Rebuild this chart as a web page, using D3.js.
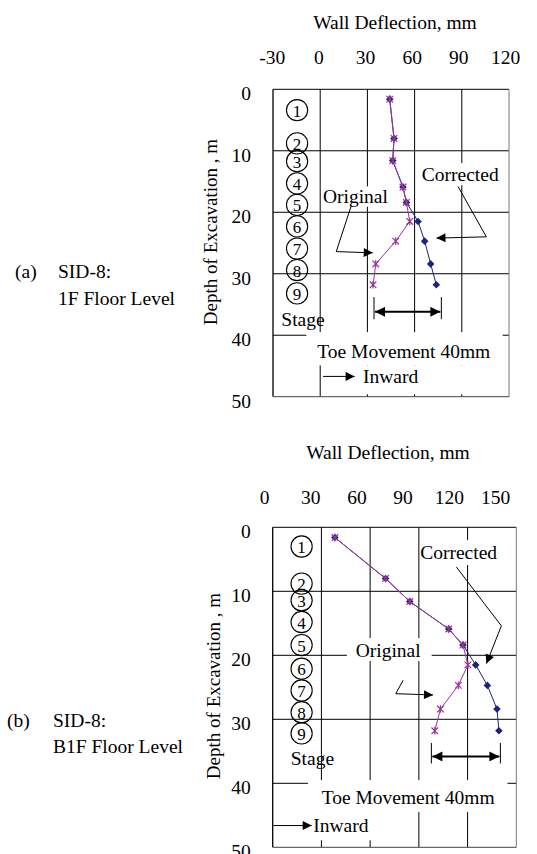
<!DOCTYPE html>
<html><head><meta charset="utf-8">
<script src="https://cdn.jsdelivr.net/npm/d3@7"></script>
<style>
body{margin:0;background:#fff}
svg{display:block}
text{font-family:"Liberation Serif","Times New Roman",serif;fill:#000}
</style>
</head><body><svg id="c" width="537" height="854"></svg>
<script>
// ---------------- data ----------------
const depths = [1.6, 8.0, 11.6, 15.9, 18.4, 21.5, 24.7, 28.4, 31.8];
const depthTicks = [0, 10, 20, 30, 40, 50];
const stageLabels = ["1","2","3","4","5","6","7","8","9"];

// (a) SID-8: 1F Floor Level
const xTicksA = [-30, 0, 30, 60, 90, 120];
const originalA = [44.2, 46.9, 46.1, 52.6, 54.8, 56.9, 48.0, 35.3, 33.6];
const correctedA = [44.2, 46.9, 46.1, 52.6, 54.8, 62.2, 66.4, 70.2, 73.8];
const stageDepthA = [3.4, 8.8, 11.7, 15.3, 18.8, 22.3, 25.9, 29.4, 33.2];

// (b) SID-8: B1F Floor Level
const xTicksB = [0, 30, 60, 90, 120, 150];
const originalB = [38.3, 69.5, 84.4, 108.4, 117.2, 120.2, 114.3, 103.3, 99.8];
const correctedB = [38.3, 69.5, 84.4, 108.4, 117.2, 125.0, 132.2, 138.1, 139.3];
const stageDepthB = [3.0, 8.8, 11.4, 14.8, 18.4, 22.1, 25.5, 28.9, 32.2];

const xTitle = "Wall Deflection, mm";
const yTitle = "Depth of Excavation , m";

// ---------------- layout ----------------
const panels = [
  {
    px: [273, 509], py: [89.3, 396.7], labelX: [271.7, 505], tickLabelY: 57, titleX: 395, titleY: 22,
    yTitleX: 210, yTitleY: 232, xTicks: xTicksA, orig: originalA, corr: correctedA, stageD: stageDepthA, stageX: -14.7,
    tag: "(a)", tagX: 15, line1: "SID-8:", line2: "1F Floor Level", textX: 58, tagY: 271, line2Y: 298,
    stageText: [-24.7, 37.5],
    corrText: [89.0, 13.9], origText: [22.4, 17.5],
    corrPtr: [[87.6, 15.8], [105.6, 24.0], [73.9, 24.2]],
    origPtr: [[19.8, 18.9], [10.2, 26.4], [33.4, 26.6]],
    toe: {x1: 34.2, x2: 77.0, y: 36.2, yb1: 33.8, yb2: 37.4},
    toeText: [53.1, 42.7], inward: {x1: 1.8, x2: 21.9, y: 46.7, tx: 27.2},
    boxes: [[-8.8, 116, 39.5, 44.9], [21.9, 119, 44.9, 49.6], [1, 44.2, 15.8, 19.1], [63.2, 114, 12, 15.6]]
  },
  {
    px: [272.7, 516.3], py: [527.3, 847.3], labelX: [264, 495], tickLabelY: 497, titleX: 388, titleY: 452,
    yTitleX: 213, yTitleY: 686, xTicks: xTicksB, orig: originalB, corr: correctedB, stageD: stageDepthB, stageX: 17.8,
    tag: "(b)", tagX: 7, line1: "SID-8:", line2: "B1F Floor Level", textX: 53, tagY: 720, line2Y: 746,
    stageText: [11.1, 36.1],
    corrText: [114.5, 4.0], origText: [71.1, 19.2],
    corrPtr: [[113.1, 6.2], [140.8, 15.4], [131.6, 21.3]],
    origPtr: [[80.3, 23.9], [75.8, 26.0], [98.7, 26.2]],
    toe: {x1: 97.7, x2: 140.2, y: 35.8, yb1: 33.7, yb2: 36.9},
    toeText: [83.4, 42.2], inward: {x1: 0.4, x2: 24.0, y: 46.6, tx: 25.0},
    boxes: [[21.7, 144.6, 39.5, 44.5], [23.5, 61, 44.5, 48.9], [45.7, 97.9, 17.3, 20.9], [91, 139.7, 2, 5.9]]
  }
];

const FS = 19.5;
const PURPLE = "#993399", NAVY = "#1c237e";
const svg = d3.select("#c");

const defs = svg.append("defs");
defs.append("marker").attr("id", "ah").attr("viewBox", "0 0 10 10").attr("refX", 10).attr("refY", 5)
  .attr("markerWidth", 11).attr("markerHeight", 9).attr("markerUnits", "userSpaceOnUse").attr("orient", "auto")
  .append("path").attr("d", "M0,0L10,5L0,10Z").attr("fill", "#000");
defs.append("marker").attr("id", "ah2").attr("viewBox", "0 0 10 10").attr("refX", 10).attr("refY", 5)
  .attr("markerWidth", 12).attr("markerHeight", 10).attr("markerUnits", "userSpaceOnUse").attr("orient", "auto-start-reverse")
  .append("path").attr("d", "M0,0L10,5L0,10Z").attr("fill", "#000");

panels.forEach(p => {
  const xd = [p.xTicks[0], p.xTicks[p.xTicks.length - 1]];
  const x = d3.scaleLinear().domain(xd).range(p.px);
  const y = d3.scaleLinear().domain([0, 50]).range(p.py);
  const xl = d3.scaleLinear().domain(xd).range(p.labelX);
  const g = svg.append("g");

  // titles
  g.append("text").attr("x", p.titleX).attr("y", p.titleY).attr("text-anchor", "middle")
    .attr("dominant-baseline", "central").style("font-size", FS + "px").text(xTitle);

  // top tick labels via axis
  const ax = g.append("g").attr("transform", `translate(0,${p.tickLabelY})`)
    .call(d3.axisTop(xl).tickValues(p.xTicks).tickSize(0).tickPadding(0).tickFormat(d => String(d)));
  ax.select(".domain").remove();
  ax.selectAll("text").attr("y", 0).attr("dy", null).attr("dominant-baseline", "central")
    .style("font-size", FS + "px").style("font-family", '"Liberation Serif","Times New Roman",serif');

  // left tick labels via axis
  const ay = g.append("g").attr("transform", `translate(${p.px[0] - 22},4)`)
    .call(d3.axisLeft(y).tickValues(depthTicks).tickSize(0).tickPadding(0).tickFormat(d => String(d)));
  ay.select(".domain").remove();
  ay.selectAll("text").attr("x", 0).attr("dy", null).attr("dominant-baseline", "central")
    .style("font-size", FS + "px").style("font-family", '"Liberation Serif","Times New Roman",serif');

  // y title
  g.append("text").attr("transform", `translate(${p.yTitleX},${p.yTitleY}) rotate(-90)`)
    .attr("text-anchor", "middle").attr("dominant-baseline", "central")
    .style("font-size", "19px").text(yTitle);

  // side labels
  g.append("text").attr("x", p.tagX).attr("y", p.tagY).attr("dominant-baseline", "central")
    .style("font-size", FS + "px").text(p.tag);
  g.append("text").attr("x", p.textX).attr("y", p.tagY).attr("dominant-baseline", "central")
    .style("font-size", FS + "px").text(p.line1);
  g.append("text").attr("x", p.textX).attr("y", p.line2Y).attr("dominant-baseline", "central")
    .style("font-size", FS + "px").text(p.line2);

  // grid
  g.append("g").selectAll("line").data(p.xTicks.slice(1, -1)).join("line")
    .attr("x1", d => x(d)).attr("x2", d => x(d)).attr("y1", p.py[0]).attr("y2", p.py[1])
    .attr("stroke", "#000").attr("stroke-width", 1);
  g.append("g").selectAll("line").data(depthTicks.slice(1, -1)).join("line")
    .attr("x1", p.px[0]).attr("x2", p.px[1]).attr("y1", d => y(d)).attr("y2", d => y(d))
    .attr("stroke", "#000").attr("stroke-width", 1);

  // white text boxes
  g.append("g").selectAll("rect").data(p.boxes).join("rect")
    .attr("x", d => x(d[0])).attr("width", d => x(d[1]) - x(d[0]))
    .attr("y", d => y(d[2])).attr("height", d => y(d[3]) - y(d[2])).attr("fill", "#fff");

  // frame
  g.append("line").attr("x1", p.px[0]).attr("x2", p.px[1]).attr("y1", p.py[0]).attr("y2", p.py[0]).attr("stroke", "#000");
  g.append("line").attr("x1", p.px[0]).attr("x2", p.px[0]).attr("y1", p.py[0]).attr("y2", p.py[1]).attr("stroke", "#000").attr("stroke-width", 1.3);
  g.append("line").attr("x1", p.px[1]).attr("x2", p.px[1]).attr("y1", p.py[0]).attr("y2", p.py[1]).attr("stroke", "#777");
  g.append("line").attr("x1", p.px[0]).attr("x2", p.px[1]).attr("y1", p.py[1]).attr("y2", p.py[1]).attr("stroke", "#444");

  // stage circles
  const sg = g.append("g").selectAll("g").data(p.stageD).join("g")
    .attr("transform", d => `translate(${x(p.stageX)},${y(d)})`);
  sg.append("circle").attr("r", 10.6).attr("fill", "none").attr("stroke", "#000").attr("stroke-width", 1.1);
  sg.append("text").attr("text-anchor", "middle").attr("dominant-baseline", "central").attr("dy", 1)
    .style("font-size", "17px").text((d, i) => stageLabels[i]);
  g.append("text").attr("x", x(p.stageText[0])).attr("y", y(p.stageText[1])).attr("dominant-baseline", "central")
    .style("font-size", FS + "px").text("Stage");

  // annotation texts
  g.append("text").attr("x", x(p.corrText[0])).attr("y", y(p.corrText[1])).attr("text-anchor", "middle")
    .attr("dominant-baseline", "central").style("font-size", FS + "px").text("Corrected");
  g.append("text").attr("x", x(p.origText[0])).attr("y", y(p.origText[1])).attr("text-anchor", "middle")
    .attr("dominant-baseline", "central").style("font-size", FS + "px").text("Original");
  g.append("text").attr("x", x(p.toeText[0])).attr("y", y(p.toeText[1])).attr("text-anchor", "middle")
    .attr("dominant-baseline", "central").style("font-size", FS + "px").text("Toe Movement 40mm");
  g.append("text").attr("x", x(p.inward.tx)).attr("y", y(p.inward.y)).attr("dominant-baseline", "central")
    .style("font-size", FS + "px").text("Inward");

  // pointers
  const ln = d3.line().x(d => x(d[0])).y(d => y(d[1]));
  [p.corrPtr, p.origPtr].forEach(pts => {
    g.append("path").attr("d", ln(pts)).attr("fill", "none").attr("stroke", "#000").attr("stroke-width", 1)
      .attr("marker-end", "url(#ah)");
  });
  g.append("line").attr("x1", x(p.inward.x1)).attr("x2", x(p.inward.x2)).attr("y1", y(p.inward.y)).attr("y2", y(p.inward.y))
    .attr("stroke", "#000").attr("stroke-width", 1).attr("marker-end", "url(#ah)");

  // toe movement double arrow
  g.append("line").attr("x1", x(p.toe.x1) + 1).attr("x2", x(p.toe.x2) - 1).attr("y1", y(p.toe.y)).attr("y2", y(p.toe.y))
    .attr("stroke", "#000").attr("stroke-width", 2).attr("marker-start", "url(#ah2)").attr("marker-end", "url(#ah2)");
  [p.toe.x1, p.toe.x2].forEach(v => {
    g.append("line").attr("x1", x(v)).attr("x2", x(v)).attr("y1", y(p.toe.yb1)).attr("y2", y(p.toe.yb2))
      .attr("stroke", "#000").attr("stroke-width", 1);
  });

  // series
  const sl = d3.line().x(d => x(d[0])).y(d => y(d[1]));
  const corrPts = p.corr.map((v, i) => [v, depths[i]]);
  const origPts = p.orig.map((v, i) => [v, depths[i]]);
  g.append("path").attr("d", sl(corrPts)).attr("fill", "none").attr("stroke", NAVY).attr("stroke-width", 1);
  g.append("g").selectAll("path").data(corrPts).join("path")
    .attr("transform", d => `translate(${x(d[0])},${y(d[1])})`)
    .attr("d", "M0,-3.8L3.8,0L0,3.8L-3.8,0Z").attr("fill", NAVY);
  g.append("path").attr("d", sl(origPts)).attr("fill", "none").attr("stroke", PURPLE).attr("stroke-width", 1);
  g.append("g").selectAll("path").data(origPts).join("path")
    .attr("transform", d => `translate(${x(d[0])},${y(d[1])})`)
    .attr("d", "M-3.3,-3.3L3.3,3.3M-3.3,3.3L3.3,-3.3M0,-3.8L0,3.8").attr("fill", "none")
    .attr("stroke", PURPLE).attr("stroke-width", 1.2);
});
</script>
</body></html>
